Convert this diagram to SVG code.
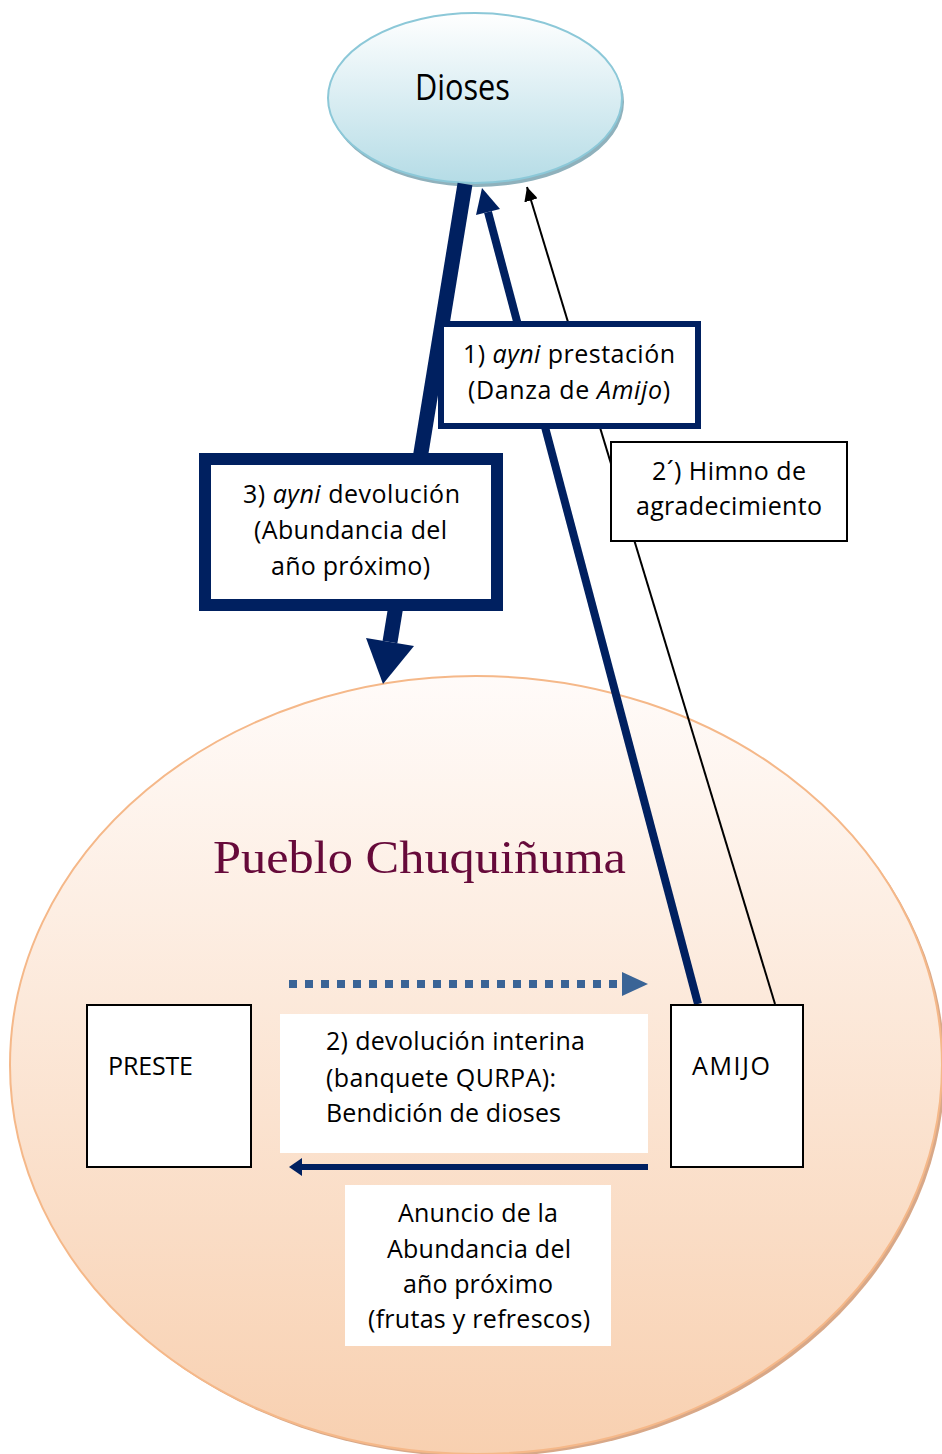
<svg xmlns="http://www.w3.org/2000/svg" width="942" height="1454" viewBox="0 0 942 1454">
<defs>
<linearGradient id="gSky" x1="0" y1="0" x2="0" y2="1">
<stop offset="0" stop-color="#ffffff"/>
<stop offset="1" stop-color="#b5dce6"/>
</linearGradient>
<linearGradient id="gPeach" x1="0" y1="0" x2="0" y2="1">
<stop offset="0" stop-color="#fffbf9"/>
<stop offset="1" stop-color="#f8d0b0"/>
</linearGradient>
<marker id="mThin" viewBox="0 0 10 10" refX="10" refY="5" markerWidth="7" markerHeight="7" markerUnits="strokeWidth" orient="auto">
<path d="M0,0 L10,5 L0,10 z" fill="#000"/>
</marker>
</defs>
<style>
.t{font-family:"Open Sans","Noto Sans",sans-serif;font-size:25px;fill:#000}
.box{fill:#fff;stroke:#000;stroke-width:2}
</style>
<rect width="942" height="1454" fill="#fff"/>

<g id="pueblo">
<ellipse cx="479" cy="1068" rx="466" ry="389" fill="#d8a888"/>
<ellipse cx="476" cy="1065" rx="466" ry="389" fill="url(#gPeach)" stroke="#f5b889" stroke-width="2"/>
<text x="213" y="873" font-family="'Liberation Serif','DejaVu Serif',serif" font-size="46" fill="#660a3a" textLength="413" lengthAdjust="spacingAndGlyphs">Pueblo Chuquiñuma</text>
</g>

<g id="dioses">
<ellipse cx="477" cy="102" rx="147" ry="85" fill="#8fb1bc"/>
<ellipse cx="475" cy="98" rx="147" ry="85" fill="url(#gSky)" stroke="#8cc8d8" stroke-width="2"/>
<text x="415" y="100" font-family="'Open Sans','Noto Sans',sans-serif" font-size="36" fill="#000" textLength="95" lengthAdjust="spacingAndGlyphs">Dioses</text>
</g>

<g id="connectors">
<line x1="465" y1="184" x2="390" y2="642" stroke="#002060" stroke-width="15"/>
<polygon points="383,684 414,646 366,638" fill="#002060"/>
<line x1="698" y1="1004" x2="488" y2="212" stroke="#002060" stroke-width="8"/>
<polygon points="482,188 500,209 476,215" fill="#002060"/>
<line x1="775" y1="1004" x2="527" y2="187" stroke="#000" stroke-width="2" marker-end="url(#mThin)"/>
<line x1="289" y1="984" x2="620" y2="984" stroke="#3a6496" stroke-width="8" stroke-dasharray="8 8"/>
<polygon points="648,984 622,972 622,996" fill="#3a6496"/>
<line x1="648" y1="1167" x2="300" y2="1167" stroke="#002060" stroke-width="6"/>
<polygon points="289,1167 302,1158 302,1176" fill="#002060"/>
</g>

<g id="label1">
<rect x="441" y="324" width="257" height="102" fill="#fff" stroke="#002060" stroke-width="6"/>
<text class="t" x="463" y="363" textLength="212"><tspan>1) </tspan><tspan font-style="italic">ayni</tspan><tspan> prestación</tspan></text>
<text class="t" x="468" y="399" textLength="202"><tspan>(Danza de </tspan><tspan font-style="italic">Amijo</tspan><tspan>)</tspan></text>
</g>

<g id="label2p">
<rect x="611" y="442" width="236" height="99" class="box" stroke-width="1.5"/>
<text class="t" x="652" y="480" textLength="154">2´) Himno de</text>
<text class="t" x="636" y="515" textLength="186">agradecimiento</text>
</g>

<g id="label3">
<rect x="205" y="459" width="292" height="146" fill="#fff" stroke="#002060" stroke-width="12"/>
<text class="t" x="243" y="503" textLength="217"><tspan>3) </tspan><tspan font-style="italic">ayni</tspan><tspan> devolución</tspan></text>
<text class="t" x="254" y="539" textLength="193">(Abundancia del</text>
<text class="t" x="271" y="575" textLength="159">año próximo)</text>
</g>

<g id="preste">
<rect x="87" y="1005" width="164" height="162" class="box"/>
<text class="t" x="108" y="1075" textLength="85">PRESTE</text>
</g>

<g id="amijo">
<rect x="671" y="1005" width="132" height="162" class="box"/>
<text class="t" x="692" y="1075" textLength="78">AMIJO</text>
</g>

<g id="label2">
<rect x="280" y="1014" width="368" height="139" fill="#fff"/>
<text class="t" x="326" y="1050" textLength="259">2) devolución interina</text>
<text class="t" x="326" y="1087" textLength="230">(banquete QURPA):</text>
<text class="t" x="326" y="1122" textLength="235">Bendición de dioses</text>
</g>

<g id="label4">
<rect x="345" y="1185" width="266" height="161" fill="#fff"/>
<text class="t" x="398" y="1222" textLength="160">Anuncio de la</text>
<text class="t" x="387" y="1258" textLength="184">Abundancia del</text>
<text class="t" x="403" y="1293" textLength="150">año próximo</text>
<text class="t" x="368" y="1328" textLength="222">(frutas y refrescos)</text>
</g>
</svg>
